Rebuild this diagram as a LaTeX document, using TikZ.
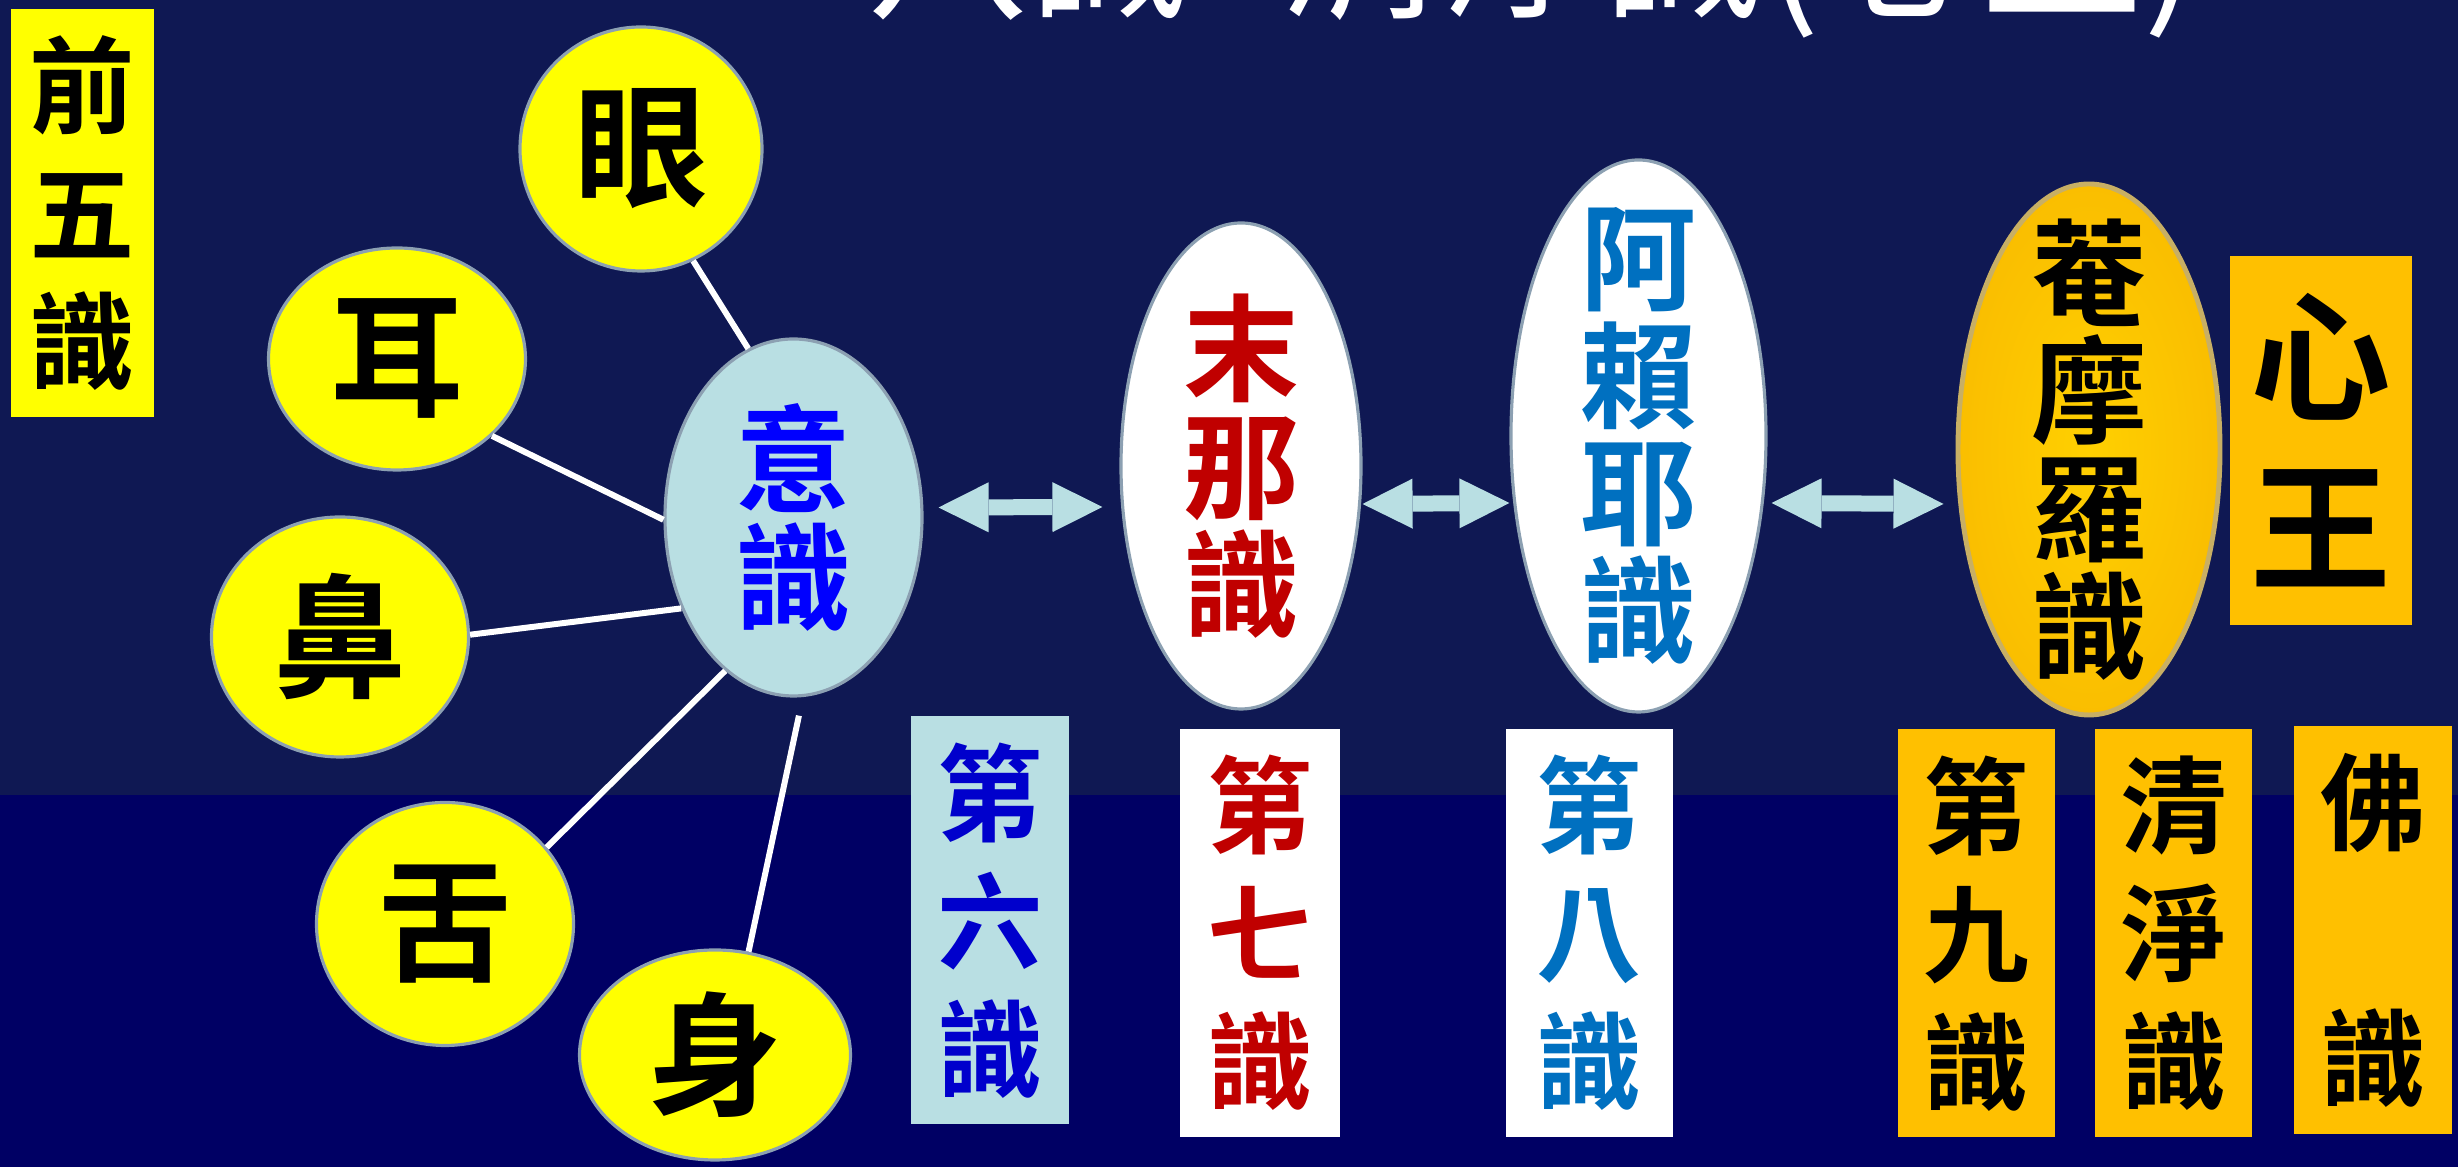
\documentclass[tikz,border=0pt]{standalone}
\usepackage{fontspec}
\newfontfamily\tcbold{Noto Sans CJK TC Bold}
\newfontfamily\tcthin{Noto Sans CJK TC}
\usetikzlibrary{shapes,positioning,calc,arrows.meta}
\definecolor{bgtop}{RGB}{15,24,83}
\definecolor{bgbottom}{RGB}{0,0,100}
\definecolor{sunyellow}{RGB}{255,255,0}
\definecolor{paleblue}{RGB}{185,223,227}
\definecolor{rim}{RGB}{140,160,178}
\definecolor{darkred}{RGB}{192,0,0}
\definecolor{steelblue}{RGB}{0,112,192}
\definecolor{pureblue}{RGB}{0,0,255}
\definecolor{deepblue}{RGB}{0,0,204}
\definecolor{amber}{RGB}{255,192,0}
\definecolor{goldin}{RGB}{255,208,0}
\definecolor{goldout}{RGB}{250,190,0}
\definecolor{goldrim}{RGB}{200,175,100}

\begin{document}
\begin{tikzpicture}
  [sense/.style 2 args={
    ellipse,
    draw=rim,
    line width=0.9pt,
    fill=sunyellow,
    minimum width=#1,
    minimum height=#2,
    inner sep=0pt,
    font=\tcbold\fontsize{38}{40}\selectfont
    },
   mind/.style 2 args={
    ellipse,
    draw=rim,
    line width=0.9pt,
    minimum width=#1,
    minimum height=#2,
    inner sep=0pt
    },
   inmind/.style={font=\tcbold\fontsize{33}{33.5}\selectfont, align=center},
   column/.style={
    rectangle,
    inner sep=0pt,
    minimum width=#1,
    minimum height=4.08cm,
    align=center,
    font=\tcbold\fontsize{30}{36.4}\selectfont
    },
   spoke/.style={draw=white, line width=0.06cm},
   twoway/.style={
    draw=paleblue,
    line width=0.16cm,
    {Triangle[length=0.5cm,width=0.5cm,line width=0pt]}-{Triangle[length=0.5cm,width=0.5cm,line width=0pt]}
    }
  ]
  \useasboundingbox (0,0) rectangle (24.58,11.67);
  \clip (0,0) rectangle (24.58,11.67);

  % sfondo a due fasce
  \fill[bgtop] (0,3.72) rectangle (24.58,11.67);
  \fill[bgbottom] (0,0) rectangle (24.58,3.72);

  \node [anchor=base west, text=white, font=\tcthin\fontsize{46}{46}\selectfont]
    (title) at (8.55,11.60) {八識+清淨識(心王)};

  \node [column=1.43cm, fill=sunyellow, minimum height=4.08cm] (qianwu) at (0.825,9.54) {前\\五\\識};

  % i cinque sensi
  \node [sense={2.42cm}{2.44cm}] (eye)    at (6.41,10.18) {眼};
  \node [sense={2.57cm}{2.22cm}] (ear)    at (3.97,8.08)  {耳};
  \node [sense={2.57cm}{2.40cm}] (nose)   at (3.40,5.30)  {鼻};
  \node [sense={2.57cm}{2.43cm}] (tongue) at (4.45,2.43)  {舌};
  \node [sense={2.71cm}{2.10cm}] (body)   at (7.15,1.12)  {身};

  \node [
    mind={2.57cm}{3.57cm},
    fill=paleblue,
    label={[name=yitext, inmind, text=pureblue]center:{意\\識}}
    ]
    (yi) at (7.935,6.495) {};
  \node [
    mind={2.40cm}{4.86cm},
    fill=white,
    label={[name=monatext, inmind, text=darkred]center:{末\\那\\識}}
    ]
    (mona) at (12.41,7.01) {};
  \node [
    mind={2.55cm}{5.52cm},
    fill=white,
    label={[name=alayatext, inmind, text=steelblue]center:{阿\\賴\\耶\\識}}
    ]
    (alaya) at (16.385,7.31) {};
  \node [
    mind={2.62cm}{5.31cm},
    draw=goldrim,
    line width=1.4pt,
    inner color=goldin,
    outer color=goldout,
    label={[name=amalatext, inmind, text=black]center:{菴\\摩\\羅\\識}}
    ]
    (amala) at (20.89,7.175) {};

  \node [column=1.82cm, fill=amber, minimum height=3.69cm, font=\tcbold\fontsize{40}{48.4}\selectfont]
    (xinwang) at (23.21,7.265) {心\\王};

  \node [column=1.58cm, fill=paleblue, text=deepblue] (sixth)   at (9.90,2.465)  {第\\六\\識};
  \node [column=1.60cm, fill=white, text=darkred]     (seventh) at (12.60,2.34)  {第\\七\\識};
  \node [column=1.67cm, fill=white, text=steelblue]   (eighth)  at (15.895,2.34) {第\\八\\識};
  \node [column=1.57cm, fill=amber]                   (ninth)   at (19.765,2.335) {第\\九\\識};
  \node [column=1.57cm, fill=amber, right=0.39cm of ninth] (pure) {清\\淨\\識};
  \node [column=1.58cm, fill=amber, right=0.40cm of pure, yshift=0.035cm] (buddha) {佛\\\mbox{}\\識};

  \draw[spoke] (eye.-65) -- (yi.105);
  \draw[spoke] (ear.-39) -- (yi.181);
  \draw[spoke] (nose.1) -- (yi.-141);
  \draw[spoke] (tongue.37) -- (yi.-114);
  \draw[spoke, shorten >=0.19cm] (body.72) -- (yi.-87);

  \draw[twoway] ($(yi.east) + (0.15,0.10)$) -- ($(mona.west) + (-0.17,-0.41)$);
  \draw[twoway] ($(mona.east) + (0,-0.38)$) -- ($(alaya.west) + (0,-0.67)$);
  \draw[twoway] ($(alaya.east) + (0.04,-0.67)$) -- ($(amala.west) + (-0.12,-0.545)$);
\end{tikzpicture}
\end{document}
